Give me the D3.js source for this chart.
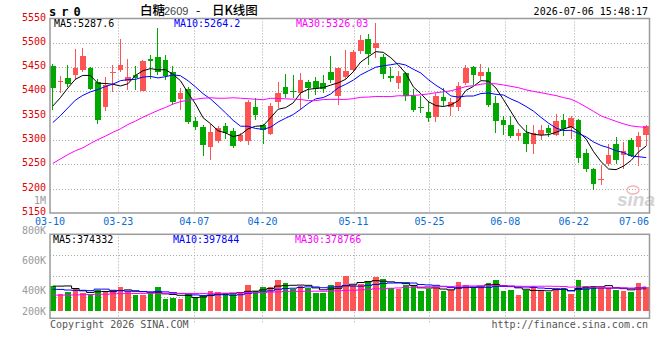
<!DOCTYPE html>
<html>
<head>
<meta charset="utf-8">
<title>白糖2609 日K线图</title>
<script src="https://cdn.jsdelivr.net/npm/d3@7/dist/d3.min.js"></script>
<style>
  body { margin: 0; background: #fff; }
  text { font-family: "DejaVu Sans Mono", monospace; font-size: 10px; }
</style>
</head>
<body>
<div id="chart"></div>
<script>
// trading days on the chart (80 sessions)
const days = ["03-10","03-11","03-12","03-13",
  "03-16","03-17","03-18","03-19","03-20",
  "03-23","03-24","03-25","03-26","03-27",
  "03-30","03-31","04-01","04-02","04-03",
  "04-07","04-08","04-09","04-10",
  "04-13","04-14","04-15","04-16","04-17",
  "04-20","04-21","04-22","04-23","04-24",
  "04-27","04-28","04-29","04-30",
  "05-06","05-07","05-08",
  "05-11","05-12","05-13","05-14","05-15",
  "05-18","05-19","05-20","05-21","05-22",
  "05-25","05-26","05-27","05-28","05-29",
  "06-01","06-02","06-03","06-04","06-05",
  "06-08","06-09","06-10","06-11","06-12",
  "06-15","06-16","06-17","06-18",
  "06-22","06-23","06-24","06-25","06-26",
  "06-29","06-30","07-01","07-02","07-03",
  "07-06"];
const tickDays = ["03-10","03-23","04-07","04-20","05-11","05-25","06-08","06-22","07-06"];

const open = [5452,5419,5427,5433,5445,5449,5419,5367,5438,5445,
  5421,5433,5401,5467,5470,5465,5440,5385,5404,5339,
  5327,5285,5298,5328,5318,5298,5299,5369,5330,5313,
  5378,5409,5401,5397,5420,5422,5417,5441,5390,5429,
  5444,5483,5508,5489,5470,5431,5417,5437,5390,5369,
  5358,5347,5388,5369,5369,5417,5450,5432,5440,5376,
  5342,5332,5308,5315,5291,5310,5325,5311,5342,5325,
  5342,5274,5241,5217,5250,5291,5269,5301,5285,5311];
const high = [5456,5431,5454,5488,5490,5451,5425,5430,5454,5508,
  5466,5453,5465,5474,5531,5475,5452,5407,5409,5348,
  5330,5333,5329,5335,5325,5314,5383,5386,5333,5376,
  5420,5435,5433,5437,5424,5430,5433,5472,5451,5485,
  5485,5517,5519,5540,5476,5451,5442,5441,5405,5390,
  5380,5397,5407,5386,5420,5455,5453,5456,5448,5390,
  5349,5349,5323,5330,5332,5330,5330,5354,5354,5349,
  5344,5281,5243,5249,5291,5306,5296,5305,5317,5332];
const low = [5362,5396,5409,5424,5441,5402,5334,5360,5399,5440,
  5402,5403,5400,5425,5433,5424,5373,5362,5333,5320,
  5268,5258,5294,5303,5283,5296,5290,5342,5291,5311,
  5366,5386,5386,5362,5385,5393,5397,5417,5373,5426,
  5440,5478,5455,5468,5426,5420,5405,5381,5358,5356,
  5337,5337,5371,5349,5360,5414,5414,5424,5367,5315,
  5311,5304,5299,5276,5272,5301,5306,5308,5308,5303,
  5252,5235,5197,5207,5247,5250,5240,5265,5247,5287];
const close = [5407,5422,5416,5448,5472,5406,5342,5414,5440,5454,
  5429,5427,5463,5462,5441,5431,5379,5397,5337,5327,
  5290,5317,5325,5315,5288,5310,5378,5351,5320,5371,
  5397,5395,5399,5424,5407,5405,5405,5424,5448,5443,
  5482,5506,5478,5500,5436,5427,5432,5390,5362,5366,
  5345,5391,5381,5378,5411,5449,5433,5440,5373,5340,
  5330,5309,5315,5291,5315,5320,5315,5339,5322,5345,
  5264,5240,5209,5219,5270,5258,5277,5267,5308,5328];
const volume = [417000,283000,317000,362000,305000,283000,345000,333000,345000,405000,
  333000,267000,267000,295000,400000,200000,217000,200000,283000,222000,
  250000,333000,317000,295000,278000,317000,433000,333000,400000,400000,
  517000,467000,362000,417000,378000,305000,305000,433000,478000,583000,
  433000,450000,500000,567000,533000,383000,367000,433000,417000,333000,
  367000,383000,333000,350000,483000,433000,400000,400000,467000,517000,
  333000,350000,267000,350000,417000,333000,317000,367000,383000,283000,
  517000,417000,417000,383000,383000,350000,333000,317000,460000,400000];

// average values before a full window is on the chart
const priceMa5Head = [5370,5387,5407,5425];
const priceMa10Head = [5336,5350,5366,5382,5392,5399,5404,5410,5415];
const priceMa30Head = [5252,5261,5270,5278,5284,5293,5301,5308,5316,5323,
  5332,5339,5347,5354,5361,5367,5374,5379,5382,5384,
  5386,5387,5386,5386,5387,5386,5385,5384,5383];
const volMa5Head = [415000,415000,418000,375000];
const volMa10Head = [362000,360000,350000,345000,345000,340000,365000,365000,345000];
const volMa30Head = [265000,265000,266000,268000,272000,275000,278000,280000,285000,290000,
  292000,293000,294000,295000,295000,295000,294000,293000,293000,293000,
  293000,295000,296000,298000,300000,302000,305000,308000,311000];

const priceMaLabels = ["MA5:5287.6","MA10:5264.2","MA30:5326.03"];
const volMaLabels = ["MA5:374332","MA10:397844","MA30:378766"];
const priceTicks = [5550,5500,5450,5400,5350,5300,5250,5200,5150];
const volTicks = [1000000,800000,600000,400000,200000];
const maColors = ["#000000","#0000ff","#ff00ff"];

const width = 660, height = 360;
const left = 50, right = 649.5;
const pTop = 18.5, pBottom = 213;
const vTop = 234.3, vBottom = 318.3, vBase = 311;
const upColor = "#ff5454", downColor = "#00a800";

const svg = d3.select("#chart").append("svg")
  .attr("width", width).attr("height", height);

const idx = d3.range(days.length);
const x = d3.scaleBand().domain(idx).range([left, 649]).paddingInner(0.25).paddingOuter(0);
const cx = (i) => x(i) + x.bandwidth() / 2;
const xg = d3.scaleLinear().domain([0, days.length - 1]).range([left, right]);
const y = d3.scaleLinear().domain([5150, 5550]).range([pBottom, pTop]);
const yv = d3.scaleLinear().domain([0, 1280000]).range([vBase, vTop]);
// where the volume axis texts sit
const yvLabel = d3.scaleLinear().domain([0, 1000000]).range([350.7, 200.7]);

function movingAvg(vals, period, head) {
  return vals.map((v, i) => i < head.length ? head[i] : d3.mean(vals.slice(i - period + 1, i + 1)));
}

const gridColor = "#a8a8a8";
const tickIdx = tickDays.map((d) => days.indexOf(d));

// ---------- price panel grid ----------
svg.append("g").selectAll("line").data(priceTicks.filter((p) => p > 5150 && p < 5550)).enter()
  .append("line")
  .attr("x1", left).attr("x2", right)
  .attr("y1", (d) => Math.round(y(d)) + 0.5).attr("y2", (d) => Math.round(y(d)) + 0.5)
  .attr("stroke", gridColor).attr("stroke-dasharray", "1,2");

const vGrid = tickIdx.filter((i) => i > 0 && i < days.length - 1);
svg.append("g").selectAll("line").data(vGrid).enter()
  .append("line")
  .attr("x1", (d) => Math.round(xg(d)) + 0.5).attr("x2", (d) => Math.round(xg(d)) + 0.5)
  .attr("y1", pTop).attr("y2", pBottom)
  .attr("stroke", gridColor).attr("stroke-dasharray", "1,2");

// ---------- volume panel grid ----------
const vq = [0.25, 0.5, 0.75].map((f) => vTop + (vBottom - vTop) * f);
svg.append("g").selectAll("line").data(vq).enter()
  .append("line")
  .attr("x1", left).attr("x2", right)
  .attr("y1", (d) => Math.round(d) + 0.5).attr("y2", (d) => Math.round(d) + 0.5)
  .attr("stroke", gridColor).attr("stroke-dasharray", "1,2");
svg.append("g").selectAll("line").data(vGrid).enter()
  .append("line")
  .attr("x1", (d) => Math.round(xg(d)) + 0.5).attr("x2", (d) => Math.round(xg(d)) + 0.5)
  .attr("y1", vTop).attr("y2", vBottom + 4)
  .attr("stroke", gridColor).attr("stroke-dasharray", "1,2");

// sina watermark
const logo = svg.append("g");
logo.append("ellipse").attr("cx", 633).attr("cy", 190).attr("rx", 6).attr("ry", 4)
  .attr("fill", "none").attr("stroke", "#f2b8b8").attr("stroke-width", 1.5);
logo.append("text").attr("x", 617).attr("y", 206)
  .style("font-family", "Liberation Sans, Arial, sans-serif").style("font-size", "19px")
  .style("font-style", "italic").style("font-weight", "bold")
  .attr("fill", "#d4d4d4").text("sina");

// ---------- candles ----------
const candles = svg.append("g").selectAll("g").data(idx).enter().append("g");
const candleColor = (i) => close[i] >= open[i] ? upColor : downColor;
candles.append("line")
  .attr("x1", (i) => Math.floor(cx(i)) + 0.5).attr("x2", (i) => Math.floor(cx(i)) + 0.5)
  .attr("y1", (i) => y(high[i])).attr("y2", (i) => y(low[i]))
  .attr("stroke", candleColor).attr("shape-rendering", "crispEdges");
candles.append("rect")
  .attr("x", (i) => x(i))
  .attr("width", x.bandwidth())
  .attr("y", (i) => y(Math.max(open[i], close[i])))
  .attr("height", (i) => Math.max(1, y(Math.min(open[i], close[i])) - y(Math.max(open[i], close[i]))))
  .attr("fill", candleColor).attr("shape-rendering", "crispEdges");

// ---------- price averages ----------
const priceMas = [
  movingAvg(close, 5, priceMa5Head),
  movingAvg(close, 10, priceMa10Head),
  movingAvg(close, 30, priceMa30Head)
];
const priceLine = d3.line().x((d, i) => cx(i)).y((d) => y(d));
priceMas.forEach((ma, k) => {
  svg.append("path").datum(ma)
    .attr("d", priceLine)
    .attr("fill", "none").attr("stroke", maColors[k]).attr("stroke-width", 1);
});

// ---------- volume bars ----------
svg.append("g").selectAll("rect").data(idx).enter()
  .append("rect")
  .attr("x", (i) => x(i))
  .attr("width", x.bandwidth())
  .attr("y", (i) => yv(volume[i]))
  .attr("height", (i) => vBase - yv(volume[i]))
  .attr("fill", candleColor).attr("shape-rendering", "crispEdges");

const volMas = [
  movingAvg(volume, 5, volMa5Head),
  movingAvg(volume, 10, volMa10Head),
  movingAvg(volume, 30, volMa30Head)
];
const volLine = d3.line().x((d, i) => cx(i)).y((d) => yv(d)).curve(d3.curveStep);
volMas.forEach((ma, k) => {
  svg.append("path").datum(ma)
    .attr("d", volLine)
    .attr("fill", "none").attr("stroke", maColors[k]).attr("stroke-width", 1);
});

// ---------- frames ----------
svg.append("rect").attr("x", left).attr("y", pTop)
  .attr("width", right - left).attr("height", pBottom - pTop)
  .attr("fill", "none").attr("stroke", "#9a9a9a").attr("stroke-width", 1.5);
svg.append("rect").attr("x", left).attr("y", vTop)
  .attr("width", right - left).attr("height", vBottom - vTop)
  .attr("fill", "none").attr("stroke", "#9a9a9a").attr("stroke-width", 1.5);

// ---------- axis texts ----------
svg.append("g").selectAll("text").data(priceTicks).enter()
  .append("text")
  .attr("x", 46).attr("y", (d) => y(d) - 1.5).attr("dy", "0.35em")
  .attr("text-anchor", "end").attr("fill", "#e00000")
  .text((d) => d);

const volFmt = (v) => v >= 1000000 ? (v / 1000000) + "M" : (v / 1000) + "K";
svg.append("g").selectAll("text").data(volTicks).enter()
  .append("text")
  .attr("x", 46).attr("y", (d) => Math.min(yvLabel(d), vBase)).attr("dy", "0.35em")
  .attr("text-anchor", "end").attr("fill", "#9a9a9a")
  .text(volFmt);

svg.append("g").selectAll("text").data(tickIdx).enter()
  .append("text")
  .attr("x", (i) => i === days.length - 1 ? 649 : xg(i))
  .attr("y", 221.5).attr("dy", "0.35em")
  .attr("text-anchor", (i) => i === days.length - 1 ? "end" : "middle")
  .attr("fill", "#0b6cd4")
  .text((i) => days[i]);

// ---------- legends ----------
const legendX = [54, 174, 296];
svg.append("g").selectAll("text").data(priceMaLabels).enter()
  .append("text")
  .attr("x", (d, k) => legendX[k]).attr("y", 23.5).attr("dy", "0.35em")
  .attr("fill", (d, k) => maColors[k]).text((d) => d);
svg.append("g").selectAll("text").data(volMaLabels).enter()
  .append("text")
  .attr("x", (d, k) => legendX[k] - 1).attr("y", 239).attr("dy", "0.35em")
  .attr("fill", (d, k) => maColors[k]).text((d) => d);

// ---------- header / footer ----------
svg.append("text").attr("x", 49).attr("y", 15.5)
  .style("font-weight", "bold").style("font-size", "12px").style("letter-spacing", "5px")
  .attr("fill", "#000").text("sr0");

const title = svg.append("text").attr("y", 15).attr("fill", "#000");
title.append("tspan").attr("x", 140)
  .style("font-family", "Noto Sans CJK SC").style("font-size", "12.5px").style("font-weight", "500").text("白糖");
title.append("tspan").attr("x", 164)
  .style("font-family", "Liberation Sans, Arial, sans-serif").style("font-size", "11px")
  .attr("fill", "#444").text("2609");
title.append("tspan").attr("x", 196)
  .style("font-family", "Noto Sans CJK SC").style("font-size", "12.5px").text("-");
title.append("tspan").attr("x", 212)
  .style("font-family", "Noto Sans CJK SC").style("font-size", "12.5px").style("font-weight", "500").text("日K线图");

svg.append("text").attr("x", 648).attr("y", 15).attr("text-anchor", "end")
  .attr("fill", "#000").text("2026-07-06 15:48:17");

svg.append("text").attr("x", 50).attr("y", 328)
  .attr("fill", "#555").text("Copyright 2026 SINA.COM");
svg.append("text").attr("x", 648).attr("y", 328).attr("text-anchor", "end")
  .attr("fill", "#555").text("http://finance.sina.com.cn");
</script>
</body>
</html>
